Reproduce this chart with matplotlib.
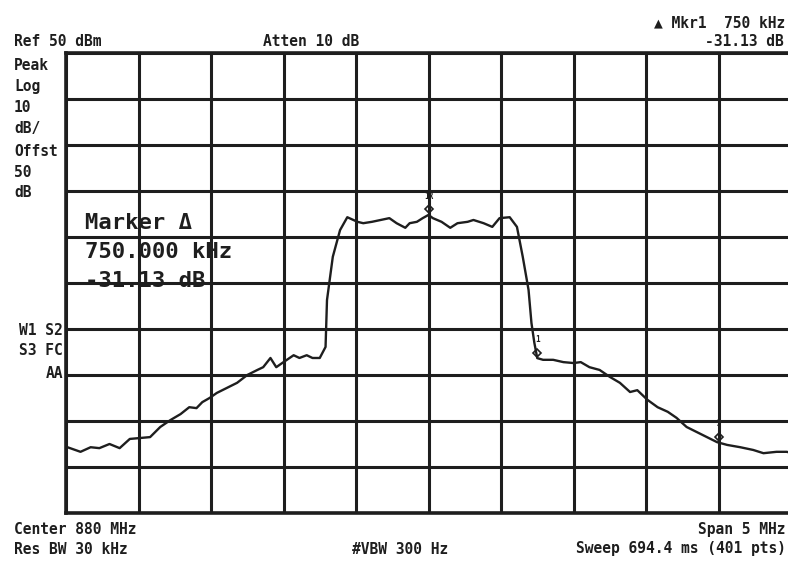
import matplotlib
matplotlib.use("Agg")
import matplotlib.pyplot as plt
import numpy as np

# sweep: offset from center (MHz) and level (dBm)
freq_offset = [-2.50, -2.49, -2.40, -2.33, -2.27, -2.20, -2.13, -2.06, -1.99, -1.92,
               -1.85, -1.78, -1.71, -1.65, -1.60, -1.56, -1.51, -1.46, -1.39, -1.32,
               -1.25, -1.18, -1.14, -1.09, -1.05, -1.00, -0.93, -0.89, -0.84, -0.80,
               -0.75, -0.71, -0.70, -0.66, -0.61, -0.56, -0.49, -0.45, -0.39, -0.33,
               -0.27, -0.22, -0.16, -0.13, -0.08, -0.04, 0.00, 0.03, 0.09, 0.15,
               0.20, 0.27, 0.31, 0.38, 0.44, 0.49, 0.56, 0.61, 0.65, 0.69,
               0.71, 0.73, 0.75, 0.79, 0.86, 0.93, 1.00, 1.05, 1.11, 1.18,
               1.25, 1.32, 1.39, 1.44, 1.51, 1.58, 1.65, 1.71, 1.78, 1.85,
               1.92, 1.99, 2.06, 2.15, 2.24, 2.31, 2.40, 2.47, 2.50]
level_dbm = [-35.7, -35.7, -36.7, -35.7, -35.9, -35.0, -35.9, -33.9, -33.7, -33.5,
             -31.3, -29.8, -28.5, -27.0, -27.2, -25.9, -25.0, -23.9, -22.8, -21.7,
             -20.0, -18.9, -18.3, -16.3, -18.3, -17.2, -15.7, -16.3, -15.7, -16.3,
             -16.3, -13.9, -3.7, 5.7, 11.5, 14.3, 13.3, 13.0, 13.3, 13.7,
             14.1, 13.0, 12.0, 13.0, 13.3, 14.1, 14.8, 14.1, 13.3, 12.0,
             13.0, 13.3, 13.7, 13.0, 12.2, 14.1, 14.3, 12.2, 5.7, -1.5,
             -8.7, -13.0, -16.33, -16.7, -16.7, -17.2, -17.4, -17.2, -18.3, -18.9,
             -20.4, -21.7, -23.7, -23.3, -25.4, -27.0, -28.0, -29.3, -31.3, -32.4,
             -33.5, -34.6, -35.2, -35.7, -36.3, -37.0, -36.7, -36.7, -36.9]

ref_level = 50
db_per_div = 10
span_mhz = 5

# markers: reference at the peak, delta marker 750 kHz away
ref_marker = (0.00, 14.80)
delta_marker = (0.75, 14.80 - 31.13)
marker_2 = (2.00, -34.6)

ink = "#1e1e1e"
mono = ["DejaVu Sans Mono", "DejaVu Sans"]

fig = plt.figure(figsize=(7.88, 5.62), dpi=100)
ax = fig.add_axes([66 / 788, 49 / 562, 725 / 788, 460 / 562])

ax.plot(freq_offset, level_dbm, color=ink, lw=1.7, zorder=3)

ax.set_xlim(-span_mhz / 2, span_mhz / 2)
ax.set_ylim(ref_level - 10 * db_per_div, ref_level)
ax.set_xticks(np.arange(-2.5, 2.51, 0.5))
ax.set_yticks(np.arange(-50, 51, 10))
ax.grid(True, color=ink, lw=2.2)
ax.tick_params(length=0, labelbottom=False, labelleft=False)
for s in ax.spines.values():
    s.set_color(ink)
    s.set_linewidth(2.6)

# marker symbols
for (mx, my), lab in [(ref_marker, "1R"), (delta_marker, "1"), (marker_2, "2")]:
    ax.plot(mx, my + 1.2, marker="D", ms=4, mfc="none", mec=ink, mew=1.2, zorder=4)
    ax.text(mx, my + 3.0, lab, ha="center", va="bottom", fontsize=5.5,
            family=mono, weight="bold", color=ink)

# on-screen annotation inside the graticule
big = dict(family=mono, weight="bold", fontsize=16, color=ink, ha="left", va="baseline")
fig.text(85 / 788, 1 - 229 / 562, "Marker Δ", **big)
fig.text(85 / 788, 1 - 258 / 562, "750.000 kHz", **big)
fig.text(85 / 788, 1 - 287 / 562, "-31.13 dB", **big)

small = dict(family=mono, weight="bold", fontsize=10.5, color=ink, va="baseline")

def put(x, y, s, ha="left"):
    fig.text(x / 788, 1 - y / 562, s, ha=ha, **small)

put(14, 46, "Ref 50 dBm")
put(263, 46, "Atten 10 dB")
put(785, 27, "▲ Mkr1  750 kHz", ha="right")
put(784, 46, "-31.13 dB", ha="right")

for y, s in zip([70, 91, 112, 133, 156, 177, 197],
                ["Peak", "Log", "10", "dB/", "Offst", "50", "dB"]):
    put(14, y, s)

put(63, 335, "W1 S2", ha="right")
put(63, 355, "S3 FC", ha="right")
put(63, 378, "AA", ha="right")

put(14, 534, "Center 880 MHz")
put(14, 554, "Res BW 30 kHz")
put(352, 554, "#VBW 300 Hz")
put(786, 534, "Span 5 MHz", ha="right")
put(786, 553, "Sweep 694.4 ms (401 pts)", ha="right")

fig.savefig("out.png", dpi=100, facecolor="white")
